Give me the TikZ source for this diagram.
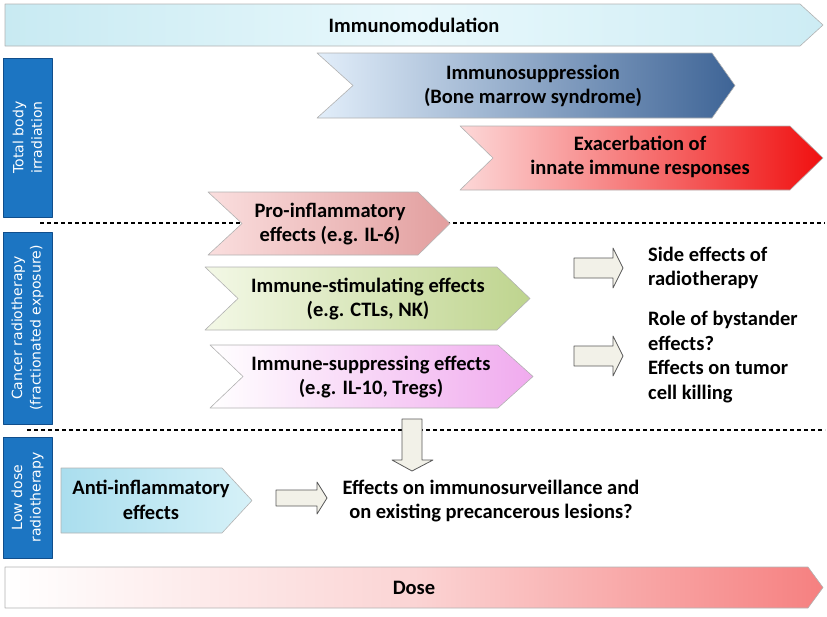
\documentclass[tikz,border=0pt]{standalone}
\usepackage{fontspec}
\setmainfont{Carlito}
\newfontfamily\boxfont{DejaVu Sans}
\usepackage{tikz}
\definecolor{sideblue}{RGB}{28,117,194}
\definecolor{sideblueD}{RGB}{16,78,140}
\definecolor{modL}{RGB}{200,234,242}
\definecolor{modM}{RGB}{232,248,252}
\definecolor{modR}{RGB}{205,236,244}
\definecolor{suppL}{RGB}{226,238,250}
\definecolor{suppR}{RGB}{62,100,150}
\definecolor{exacL}{RGB}{252,216,216}
\definecolor{exacR}{RGB}{240,16,16}
\definecolor{proL}{RGB}{250,222,222}
\definecolor{proR}{RGB}{226,158,158}
\definecolor{stimL}{RGB}{243,248,230}
\definecolor{stimR}{RGB}{190,212,142}
\definecolor{suprL}{RGB}{255,255,255}
\definecolor{suprR}{RGB}{240,170,238}
\definecolor{antiL}{RGB}{170,222,238}
\definecolor{antiR}{RGB}{214,241,248}
\definecolor{doseM}{RGB}{251,212,212}
\definecolor{doseR}{RGB}{246,128,128}
\definecolor{blkfill}{RGB}{242,241,232}
% chevron: style, left x, notch x, body end x, tip x, top y, bottom y
\newcommand{\Chevron}[7]{\shadedraw[#1] (#2,#6) -- (#4,#6) -- (#5,{(#6+#7)/2}) -- (#4,#7) -- (#2,#7) -- (#3,{(#6+#7)/2}) -- cycle;}

\begin{document}
\begin{tikzpicture}[line cap=round,line join=round,x=1pt,y=-1pt,
  lbl/.style={font=\bfseries\fontsize{20.5}{24.5}\selectfont,align=center,inner sep=0pt},
  rlbl/.style={lbl,align=left,anchor=west},
  sidebox/.style={draw=sideblueD,fill=sideblue,rotate=90,text=white,align=center,
    font=\boxfont\fontsize{14}{18.5}\selectfont,inner sep=0pt,minimum height=49pt},
  edge/.style={draw=black!30,line width=0.6pt},
  sep/.style={dash pattern=on 4pt off 3pt,line width=1.2pt,line cap=butt},
  blk/.style={draw=black!65,fill=blkfill,line width=0.8pt}]
  \useasboundingbox (0,0) rectangle (827,616);
  % top banner
  \Chevron{edge,left color=modL,right color=modR,middle color=modM}{5}{5}{800}{823}{4}{46}
  \node[lbl] (mod) at (414,25) {Immunomodulation};
  % side boxes
  \node[sidebox,minimum width=159pt] (tbi) at (27.5,137.5) {Total body\\irradiation};
  \node[sidebox,minimum width=192pt] (crt) at (27.5,328) {Cancer radiotherapy\\(fractionated exposure)};
  \node[sidebox,minimum width=121pt] (ldr) at (27.5,497.5) {Low dose\\radiotherapy};
  \draw[sep] (40,223) -- (825,223);
  \draw[sep] (27,430) -- (825,430);
  % total body irradiation
  \Chevron{edge,left color=suppL,right color=suppR}{317}{353}{712}{735}{53}{118}
  \node[lbl] (supp) at (533,86) {Immunosuppression\\(Bone marrow syndrome)};
  \Chevron{edge,left color=exacL,right color=exacR}{460}{493}{790}{823}{126}{190}
  \node[lbl] (exac) at (640,157) {Exacerbation of\\innate immune responses};
  % cancer radiotherapy
  \Chevron{edge,left color=proL,right color=proR}{208}{242}{418}{450}{192}{255}
  \node[lbl] (pro) at (330,224) {Pro-inflammatory\\effects (e.g. IL-6)};
  \Chevron{edge,left color=stimL,right color=stimR}{205}{238}{497}{530}{267}{330}
  \node[lbl] (stim) at (368,299) {Immune-stimulating effects\\(e.g. CTLs, NK)};
  \Chevron{edge,left color=suprL,right color=suprR}{210}{243}{498}{533}{345}{408}
  \node[lbl] (supr) at (371,377) {Immune-suppressing effects\\(e.g. IL-10, Tregs)};
  \filldraw[blk] (574,258) -- (613,258) -- (613,248) -- (623,268) -- (613,288) -- (613,278) -- (574,278) -- cycle;
  \filldraw[blk] (574,346) -- (613,346) -- (613,336) -- (623,356) -- (613,376) -- (613,366) -- (574,366) -- cycle;
  \node[rlbl] (side) at (648,268) {Side effects of\\radiotherapy};
  \node[rlbl] (role) at (648,357) {Role of bystander\\effects?\\Effects on tumor\\cell killing};
  \filldraw[blk] (402,419) -- (422,419) -- (422,460) -- (433,460) -- (412,471) -- (392,460) -- (402,460) -- cycle;
  % low dose
  \Chevron{edge,left color=antiL,right color=antiR}{61}{61}{222}{252}{468}{533}
  \node[lbl] (anti) at (151,500) {Anti-inflammatory\\effects};
  \filldraw[blk] (276,490) -- (317,490) -- (317,482) -- (327,498) -- (317,514) -- (317,506) -- (276,506) -- cycle;
  \node[lbl] (surv) at (491,501) {Effects on immunosurveillance and\\on existing precancerous lesions?};
  % dose
  \Chevron{edge,left color=white,right color=doseR,middle color=doseM}{5}{5}{808}{823}{567}{608}
  \node[lbl] (dose) at (414,588) {Dose};
\end{tikzpicture}
\end{document}
